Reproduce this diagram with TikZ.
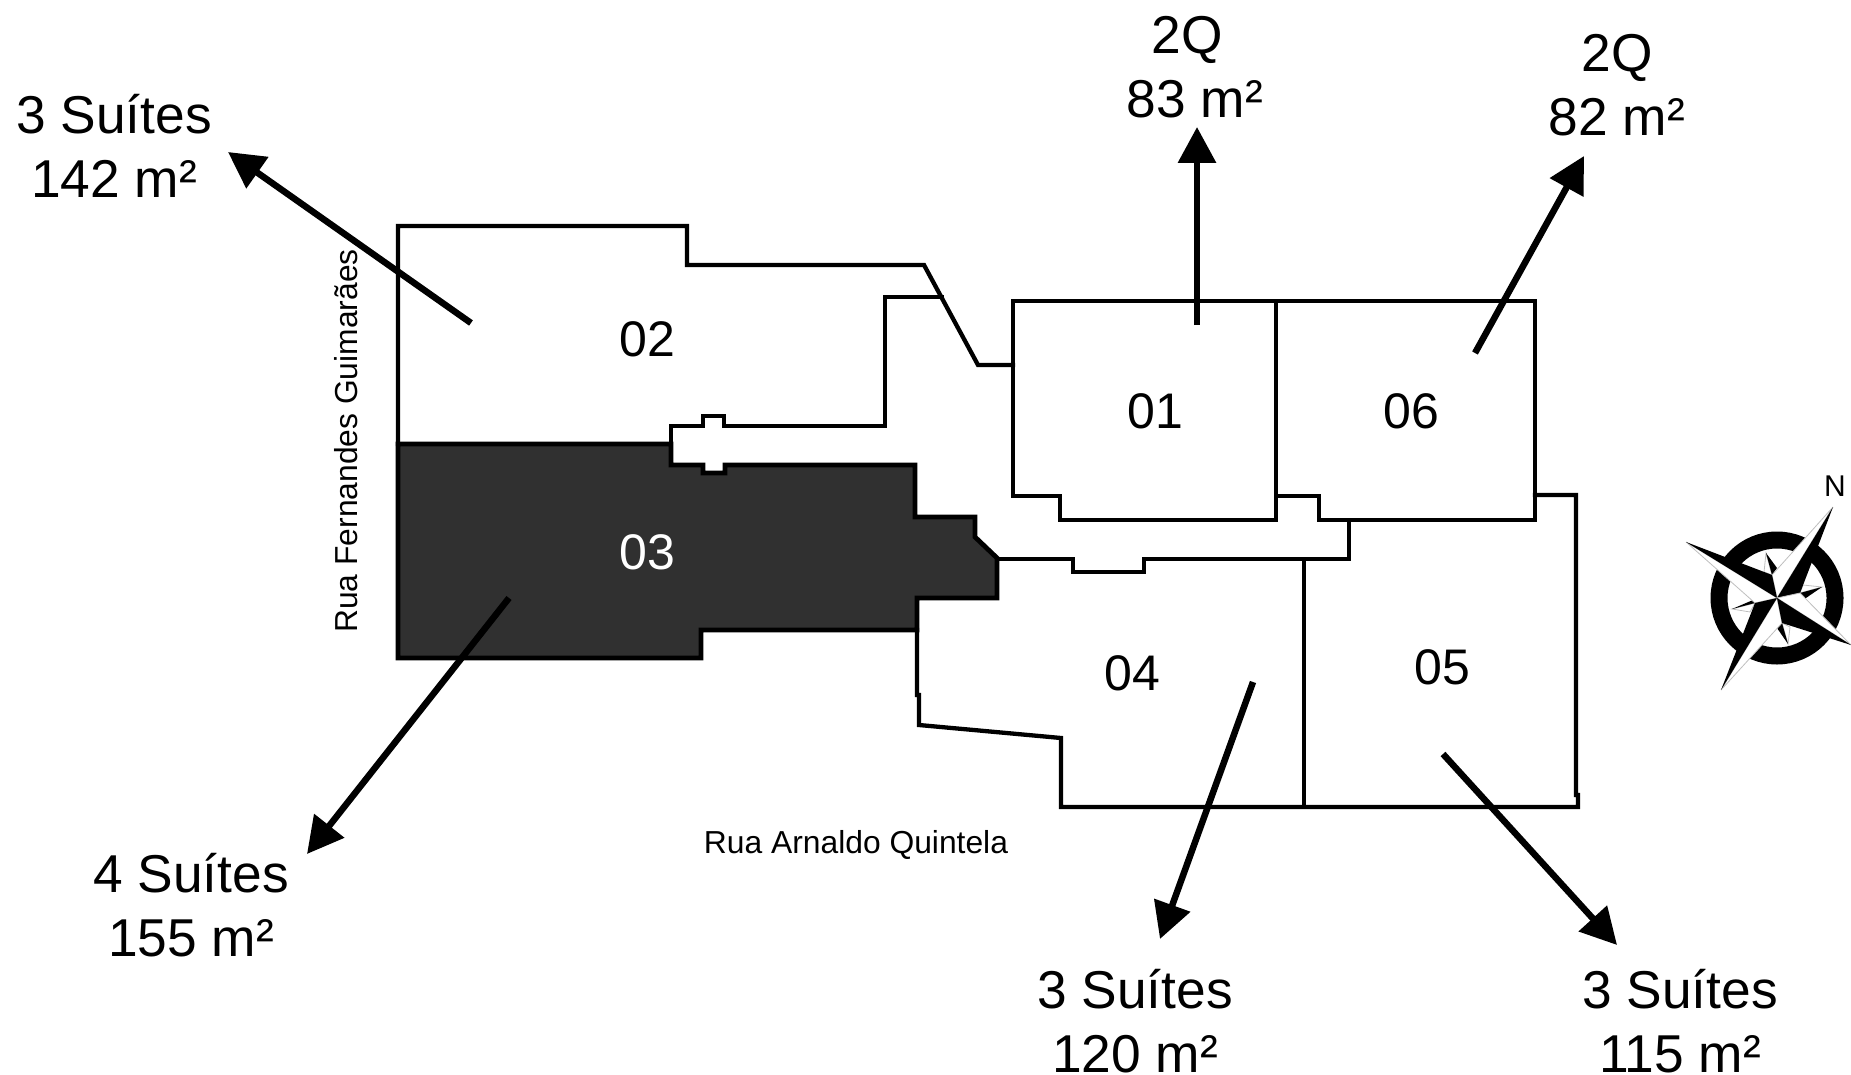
\documentclass[tikz,border=0pt]{standalone}
\usepackage{fontspec}
\setmainfont{Liberation Sans}
\usetikzlibrary{arrows.meta}
\tikzset{
  wall/.style={draw=black,line width=4.3pt,line join=miter,line cap=rect},
  darkunit/.style={wall,fill=unitdark,line width=4.8pt},
  bigtext/.style={align=center,inner sep=0pt,font=\fontsize{53.3}{64}\selectfont},
  roomnum/.style={inner sep=0pt,font=\fontsize{50}{60}\selectfont},
  street/.style={inner sep=0pt,font=\fontsize{31.8}{38}\selectfont},
  pointer/.style={draw=black,line width=6.5pt,-{Triangle[length=36pt,width=37pt]}},
  blk/.style={fill=black,draw=none},
  wht/.style={fill=white,draw=black!25,line width=0.8pt}
}
\definecolor{unitdark}{HTML}{303030}
\begin{document}
\begin{tikzpicture}[x=1pt,y=-1pt]
\useasboundingbox (0,0) rectangle (1851,1075);
% unit 02
\draw[wall] (398,444) -- (398,226) -- (687,226) -- (687,265) -- (924,265) -- (978,365) -- (1013,365);
\draw[wall] (942,297) -- (885,297) -- (885,426) -- (724,426) -- (724,416) -- (703,416) -- (703,426) -- (671,426) -- (671,444);
% unit 03
\draw[darkunit] (398,444) -- (671,444) -- (671,465) -- (703,465) -- (703,473) -- (725,473) -- (725,465) -- (915,465) -- (915,517) -- (975,517) -- (975,537) -- (997,558) -- (997,598) -- (917,598) -- (917,630) -- (701,630) -- (701,658) -- (398,658) -- cycle;
% unit 01
\draw[wall] (1013,365) -- (1013,301) -- (1276,301) -- (1276,520) -- (1060,520) -- (1060,496) -- (1013,496) -- cycle;
% unit 06
\draw[wall] (1276,301) -- (1535,301) -- (1535,520) -- (1319,520) -- (1319,496) -- (1276,496);
% units 04 and 05
\draw[wall] (997,559) -- (1073,559) -- (1073,572) -- (1144,572) -- (1144,559) -- (1349,559) -- (1349,520);
\draw[wall] (917,630) -- (917,695) -- (919,695) -- (919,725) -- (1061,738) -- (1061,807) -- (1578,807) -- (1578,795) -- (1576,795) -- (1576,495) -- (1535,495);
\draw[wall] (1304,559) -- (1304,807);
% room numbers
\node[roomnum] (n02) at (647,339) {02};
\node[roomnum] (n01) at (1155,411) {01};
\node[roomnum] (n06) at (1411,411) {06};
\node[roomnum,text=white] (n03) at (647,552) {03};
\node[roomnum] (n04) at (1132,673) {04};
\node[roomnum] (n05) at (1442,667) {05};
% streets
\node[street,rotate=90] (rf) at (346,441) {Rua Fernandes Guimarães};
\node[street] (ra) at (856,845) {Rua Arnaldo Quintela};
% labels
\node[bigtext] (l02) at (114,146) {3 Suítes\\142 m²};
\node[bigtext] (l01) at (1195,67) {\hspace*{-16pt}2Q\\83 m²};
\node[bigtext] (l06) at (1617,85) {2Q\\82 m²};
\node[bigtext] (l03) at (191,905) {4 Suítes\\155 m²};
\node[bigtext] (l04) at (1135,1021) {3 Suítes\\120 m²};
\node[bigtext] (l05) at (1680,1021) {3 Suítes\\115 m²};
% arrows
\coordinate (s02) at (471,323); \coordinate (t02) at (228,152);
\coordinate (s01) at (1197,325); \coordinate (t01) at (1197,127);
\coordinate (s06) at (1475,353); \coordinate (t06) at (1584,156);
\coordinate (s03) at (509,598); \coordinate (t03) at (307,854);
\coordinate (s04) at (1253,682); \coordinate (t04) at (1160,939);
\coordinate (s05) at (1443,754); \coordinate (t05) at (1617,945);
\draw[pointer] (s02) -- (t02);
\draw[pointer] (s01) -- (t01);
\draw[pointer] (s06) -- (t06);
\draw[pointer] (s03) -- (t03);
\draw[pointer] (s04) -- (t04);
\draw[pointer] (s05) -- (t05);
% compass
\coordinate (cc) at (1777,598);
\draw[black,line width=17pt] (cc) circle (58);
% short rays
\fill[wht] (1766,553) -- (1772,575) -- (1764,572) -- cycle;
\fill[blk] (1766,553) -- (1777,568) -- (1772,575) -- cycle;
\fill[wht] (1822,587) -- (1800,593) -- (1803,585) -- cycle;
\fill[blk] (1822,587) -- (1803,600) -- (1800,593) -- cycle;
\fill[wht] (1788,644) -- (1782,623) -- (1790,627) -- cycle;
\fill[blk] (1788,644) -- (1777,628) -- (1782,623) -- cycle;
\fill[wht] (1732,609) -- (1755,603) -- (1750,612) -- cycle;
\fill[blk] (1732,609) -- (1753,600) -- (1755,603) -- cycle;
% long rays
\fill[wht] (cc) -- (1772,575) -- (1833,507) -- cycle;
\fill[blk] (cc) -- (1800,593) -- (1833,507) -- cycle;
\fill[wht] (cc) -- (1755,603) -- (1686,542) -- cycle;
\fill[blk] (cc) -- (1772,575) -- (1686,542) -- cycle;
\fill[wht] (cc) -- (1782,623) -- (1721,690) -- cycle;
\fill[blk] (cc) -- (1755,603) -- (1721,690) -- cycle;
\fill[wht] (cc) -- (1800,593) -- (1851,645) -- cycle;
\fill[blk] (cc) -- (1782,623) -- (1851,645) -- cycle;
\node[inner sep=0pt,font=\fontsize{30}{36}\selectfont] (north) at (1835,486) {N};
\end{tikzpicture}
\end{document}
